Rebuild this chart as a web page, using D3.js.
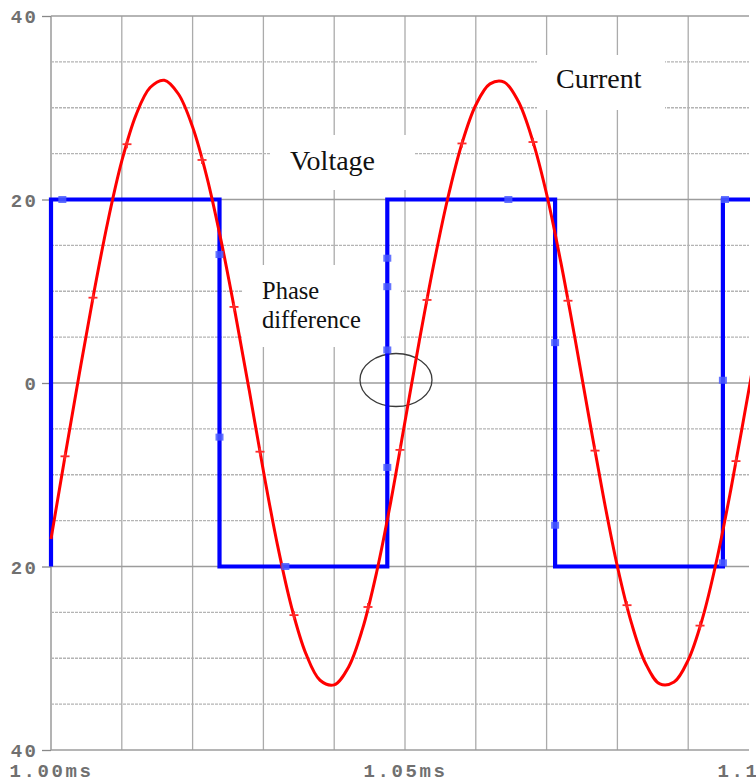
<!DOCTYPE html>
<html>
<head>
<meta charset="utf-8">
<script src="https://cdn.jsdelivr.net/npm/d3@7"></script>
<style>
  html, body { margin: 0; padding: 0; background: #fff; }
  svg { display: block; }
</style>
</head>
<body>
<svg id="chart" width="756" height="784"></svg>
<script>
// ---- data -------------------------------------------------------------
// time axis (ms)
const timeTicks = [1.00, 1.05, 1.10];
const timeGrid = [1.00, 1.01, 1.02, 1.03, 1.04, 1.05, 1.06, 1.07, 1.08, 1.09];
const levelTicks = [-40, -20, 0, 20, 40];
const levelGrid = [-40, -35, -30, -25, -20, -15, -10, -5, 0, 5, 10, 15, 20, 25, 30, 35, 40];

// square-wave voltage (edges repeated to draw the vertical steps)
const voltageTimes  = [1.0000, 1.0000, 1.0238, 1.0238, 1.0475, 1.0475, 1.0712, 1.0712, 1.0949, 1.0949, 1.1000];
const voltageValues = [-20,    20,     20,     -20,    -20,    20,     20,     -20,    -20,    20,     20];

// current through the load
const currentTimes = [
  1.000, 1.002, 1.004, 1.006, 1.008, 1.010, 1.012, 1.014, 1.016, 1.018,
  1.020, 1.022, 1.024, 1.026, 1.028, 1.030, 1.032, 1.034, 1.036, 1.038,
  1.040, 1.042, 1.044, 1.046, 1.048, 1.050, 1.052, 1.054, 1.056, 1.058,
  1.060, 1.062, 1.064, 1.066, 1.068, 1.070, 1.072, 1.074, 1.076, 1.078,
  1.080, 1.082, 1.084, 1.086, 1.088, 1.090, 1.092, 1.094, 1.096, 1.098,
  1.100
];
const currentValues = [
  -17.0, -7.9, 1.0, 9.6, 17.5, 24.2, 29.2, 32.2, 33.0, 31.5,
  27.9, 22.5, 15.6, 7.7, -0.8, -9.6, -17.7, -24.5, -29.5, -32.4,
  -32.9, -31.0, -26.8, -20.6, -12.9, -4.2, 4.5, 12.7, 20.0, 26.0,
  30.3, 32.6, 32.8, 30.7, 26.5, 20.6, 13.2, 4.9, -3.8, -12.3,
  -20.0, -26.2, -30.6, -32.8, -32.6, -30.2, -25.7, -19.4, -11.7, -3.2,
  5.5
];

// plot markers
const currentMarkerTimes = [1.00198, 1.00593, 1.01073, 1.02133, 1.02585, 1.02952, 1.03432, 1.04477,
                            1.04929, 1.05311, 1.05805, 1.06808, 1.07302, 1.07684, 1.08136, 1.09167, 1.09675];
const voltageMarkerTimes  = [1.0016, 1.0238, 1.0238, 1.0331, 1.0475, 1.0475, 1.0475, 1.0475, 1.0646, 1.0712, 1.0712, 1.0949, 1.0949, 1.0952];
const voltageMarkerValues = [20,     14.0,   -5.9,   -20,    13.6,   10.5,   3.6,    -9.2,   20,     4.4,    -15.5,  0.3,    -19.6,  20];

// annotations
const annotations = [
  { lines: ["Current"], x: 556, y: 88, size: 28, box: [537, 55, 128, 55] },
  { lines: ["Voltage"], x: 290, y: 170, size: 28, box: [270, 135, 144, 55] },
  { lines: ["Phase", "difference"], x: 262, y: 299, size: 24.5, box: [243, 265, 158, 82] }
];

// ---- layout -----------------------------------------------------------
const svg = d3.select("#chart");
const W = 756, H = 784;
const plotLeft = 51, plotRight = 749, plotTop = 16, plotBottom = 750;

const x = d3.scaleLinear().domain([1.00, 1.10]).range([51, 759]);
const y = d3.scaleLinear().domain([-40, 40]).range([plotBottom, plotTop]);

svg.append("rect").attr("width", W).attr("height", H).attr("fill", "#fff");

svg.append("defs").append("clipPath").attr("id", "plotClip")
  .append("rect").attr("x", 40).attr("y", 0).attr("width", plotRight + 1 - 40).attr("height", H);

// ---- grid -------------------------------------------------------------
const grid = svg.append("g");
grid.selectAll("line.v").data(timeGrid).join("line")
  .attr("x1", d => x(d)).attr("x2", d => x(d))
  .attr("y1", plotTop).attr("y2", plotBottom)
  .attr("stroke", d => d === 1.00 ? "#8a8a8a" : "#ababab")
  .attr("stroke-width", 1.3);

grid.selectAll("line.h").data(levelGrid).join("line")
  .attr("x1", plotLeft).attr("x2", plotRight)
  .attr("y1", d => y(d)).attr("y2", d => y(d))
  .attr("stroke", d => (d % 20 === 0) ? "#9c9c9c" : "#b4b4b4")
  .attr("stroke-width", d => (d === -40) ? 1.6 : 1.3)
  .attr("stroke-dasharray", d => (d % 20 === 0) ? null : "3,1");

// ---- axes -------------------------------------------------------------
const axisFont = "'Liberation Mono', 'DejaVu Sans Mono', monospace";

const yAxis = d3.axisLeft(y).tickValues(levelTicks).tickSize(9).tickPadding(4)
  .tickFormat(d => String(Math.abs(d)));
const gy = svg.append("g").attr("transform", `translate(${plotLeft},0)`).call(yAxis);
gy.select(".domain").remove();
gy.selectAll(".tick line").attr("stroke", "#888").attr("stroke-width", 1.3);
gy.selectAll(".tick text")
  .attr("font-family", axisFont).attr("font-size", 19).attr("font-weight", "bold")
  .attr("fill", "#707070").attr("letter-spacing", 2.2).attr("dy", "0.35em");

const xAxis = d3.axisBottom(x).tickValues(timeTicks).tickSize(0).tickPadding(14)
  .tickFormat(d => d3.format(".2f")(d) + "ms");
const gx = svg.append("g").attr("transform", `translate(0,${plotBottom})`).call(xAxis);
gx.select(".domain").remove();
gx.selectAll(".tick text")
  .attr("font-family", axisFont).attr("font-size", 19).attr("font-weight", "bold")
  .attr("fill", "#707070").attr("letter-spacing", 2.6);

// ---- annotation boxes and text ---------------------------------------
const ann = svg.append("g");
annotations.forEach(a => {
  ann.append("rect")
    .attr("x", a.box[0]).attr("y", a.box[1]).attr("width", a.box[2]).attr("height", a.box[3])
    .attr("fill", "#fff");
  const t = ann.append("text")
    .attr("x", a.x).attr("y", a.y)
    .attr("font-family", "'Liberation Serif', 'Times New Roman', serif")
    .attr("font-size", a.size).attr("fill", "#111");
  a.lines.forEach((ln, i) => {
    t.append("tspan").attr("x", a.x).attr("dy", i === 0 ? 0 : a.size * 1.18).text(ln);
  });
});

// phase-difference ring
svg.append("ellipse")
  .attr("cx", 396).attr("cy", 380).attr("rx", 36).attr("ry", 26.5)
  .attr("fill", "none").attr("stroke", "#3a3a3a").attr("stroke-width", 1.3);

// ---- series -----------------------------------------------------------
const plot = svg.append("g").attr("clip-path", "url(#plotClip)");

const voltage = voltageTimes.map((t, i) => [t, voltageValues[i]]);
const current = currentTimes.map((t, i) => [t, currentValues[i]]);

plot.append("path")
  .datum(voltage)
  .attr("d", d3.line().x(d => x(d[0])).y(d => y(d[1])))
  .attr("fill", "none").attr("stroke", "#0000ff").attr("stroke-width", 4.2)
  .attr("stroke-linejoin", "miter");

plot.append("path")
  .datum(current)
  .attr("d", d3.line().curve(d3.curveCatmullRom.alpha(0.5)).x(d => x(d[0])).y(d => y(d[1])))
  .attr("fill", "none").attr("stroke", "#ff0000").attr("stroke-width", 3);

// markers
plot.selectAll("rect.vm")
  .data(voltageMarkerTimes.map((t, i) => [t, voltageMarkerValues[i]]))
  .join("rect")
  .attr("x", d => x(d[0]) - 4).attr("y", d => y(d[1]) - 3.5)
  .attr("width", 8).attr("height", 7)
  .attr("fill", "#4a5cff").attr("opacity", 0.85);

// current markers sit on the curve: value read from the series at that time
const bis = d3.bisector(d => d[0]).left;
function currentAt(t) {
  const i = Math.max(1, Math.min(current.length - 1, bis(current, t)));
  const a = current[i - 1], b = current[i];
  return a[1] + (b[1] - a[1]) * (t - a[0]) / (b[0] - a[0]);
}
const cm = plot.selectAll("g.cm")
  .data(currentMarkerTimes.map(t => [t, currentAt(t)]))
  .join("g")
  .attr("transform", d => `translate(${x(d[0])},${y(d[1])})`);
cm.append("line").attr("x1", -4.5).attr("x2", 4.5).attr("y1", 0).attr("y2", 0)
  .attr("stroke", "#ff2a2a").attr("stroke-width", 1.8);
cm.append("line").attr("x1", 0).attr("x2", 0).attr("y1", -4).attr("y2", 4)
  .attr("stroke", "#ff2a2a").attr("stroke-width", 1.8);
</script>
</body>
</html>
